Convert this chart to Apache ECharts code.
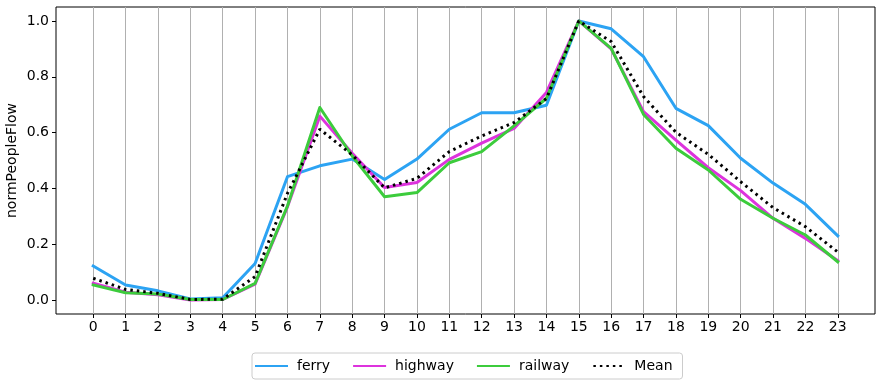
<!DOCTYPE html>
<html><head><meta charset="utf-8">
<script src="https://cdn.jsdelivr.net/npm/echarts@6/dist/echarts.min.js"></script>
<style>html,body{margin:0;padding:0;background:#fff}#c{width:883px;height:385px}</style>
</head><body><div id="c"></div>
<script>
const hours = [0,1,2,3,4,5,6,7,8,9,10,11,12,13,14,15,16,17,18,19,20,21,22,23];
const ferry   = [0.122,0.054,0.033,0.004,0.008,0.131,0.442,0.481,0.505,0.432,0.505,0.612,0.671,0.671,0.698,1.0,0.972,0.872,0.687,0.625,0.508,0.419,0.343,0.230];
const highway = [0.060,0.028,0.019,0.000,0.002,0.057,0.334,0.659,0.526,0.403,0.421,0.504,0.562,0.615,0.744,1.0,0.900,0.675,0.573,0.474,0.392,0.293,0.221,0.141];
const railway = [0.054,0.026,0.022,0.002,0.002,0.060,0.337,0.690,0.516,0.370,0.385,0.492,0.532,0.624,0.723,1.0,0.902,0.665,0.544,0.466,0.361,0.293,0.233,0.137];
const mean    = [0.078,0.038,0.024,0.002,0.003,0.084,0.382,0.612,0.520,0.402,0.436,0.532,0.588,0.636,0.722,1.0,0.926,0.729,0.601,0.522,0.424,0.331,0.263,0.172];
const yTicks = [0,0.2,0.4,0.6,0.8,1.0];
const names = ['ferry','highway','railway','Mean'];
const colors = ['#2ca3f3','#dd33dd','#3ccc3c','#000000'];

const pair = arr => hours.map((h,i)=>[h,arr[i]]);
const font = 'DejaVu Sans';
const chart = echarts.init(document.getElementById('c'), null, {renderer:'canvas'});
const mk = (name, arr, idx, z) => ({
  name, type:'line', data: pair(arr), symbol:'none', z,
  itemStyle:{color:colors[idx]},
  lineStyle: idx===3 ? {color:colors[idx], width:3, type:[2.5,4], cap:'butt'} : {color:colors[idx], width:3, cap:'square', join:'round'},
  emphasis:{disabled:true}, animation:false
});
chart.setOption({
  animation:false,
  textStyle:{fontFamily:font},
  grid:{left:56, right:8, top:7, bottom:71, show:true, borderColor:'#000', borderWidth:1, backgroundColor:'transparent', outerBoundsMode:'none', containLabel:false},
  legend:{
    bottom:6, left:252, data:names,
    itemWidth:31, itemHeight:12, itemGap:23,
    padding:[6,10,6,3],
    borderColor:'#cccccc', borderWidth:1, borderRadius:3,
    itemStyle:{opacity:0},
    textStyle:{fontFamily:font, fontSize:14, color:'#000', padding:[0,0,0,5]}
  },
  xAxis:{
    type:'value', min:-1.15, max:24.15,
    axisLine:{show:false, onZero:false},
    axisTick:{show:true, length:4, inside:false, lineStyle:{color:'#000'}, customValues:hours},
    axisLabel:{customValues:hours, color:'#000', fontSize:14, fontFamily:font, margin:6},
    splitLine:{show:true, lineStyle:{color:'#b0b0b0', width:1}, customValues:hours}
  },
  yAxis:{
    type:'value', min:-0.05, max:1.05,
    name:'normPeopleFlow', nameLocation:'middle', nameGap:37, nameRotate:90, nameMoveOverlap:false,
    nameTextStyle:{fontFamily:font, fontSize:14, color:'#000'},
    axisLine:{show:false, onZero:false},
    axisTick:{show:true, length:4, lineStyle:{color:'#000'}, customValues:yTicks},
    axisLabel:{customValues:yTicks, color:'#000', fontSize:14, fontFamily:font, margin:7, formatter:v=>v.toFixed(1)},
    splitLine:{show:false}
  },
  series:[mk('ferry',ferry,0,2), mk('highway',highway,1,3), mk('railway',railway,2,4), mk('Mean',mean,3,5)]
});
</script></body></html>
